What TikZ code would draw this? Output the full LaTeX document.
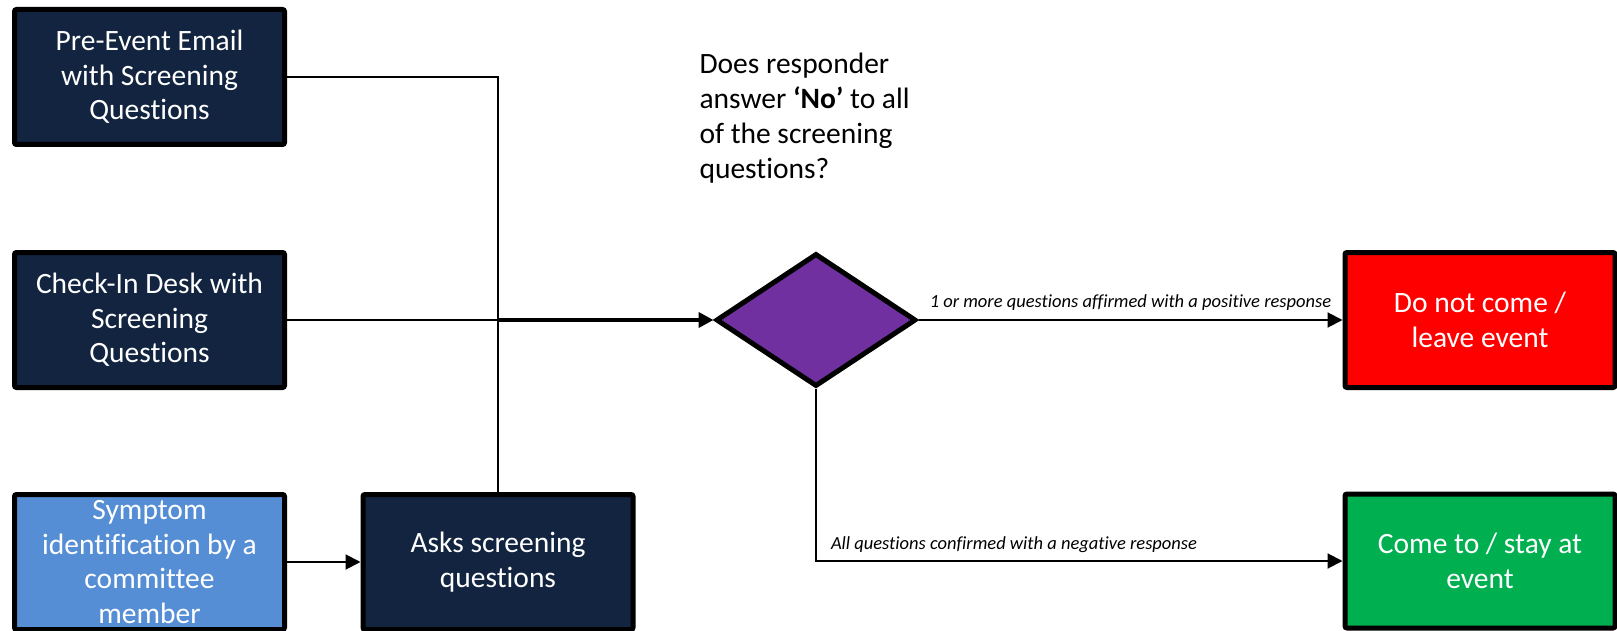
\documentclass[tikz,border=0pt]{standalone}
\usepackage{fontspec}
\setmainfont{Carlito}[Ligatures=NoCommon]
\usetikzlibrary{arrows.meta,positioning,shapes.geometric}

\definecolor{boxnavy}{RGB}{18,36,63}
\definecolor{boxsky}{RGB}{85,142,213}
\definecolor{decpurple}{RGB}{112,48,160}
\definecolor{stopred}{RGB}{255,0,0}
\definecolor{gogreen}{RGB}{0,176,80}

\tikzset{
  box/.style={draw=black, line width=5pt, rounded corners=2pt, minimum width=270pt,
    minimum height=135pt, inner sep=4pt, align=center, text=white,
    font=\fontsize{29.5}{34.5}\selectfont},
  link/.style={line width=2pt},
  tip/.style={-{Triangle[length=15pt,width=15pt]}},
  note/.style={font=\fontsize{18.5}{22}\selectfont\itshape, inner sep=2pt},
}

\begin{document}
\begin{tikzpicture}[x=1pt,y=-1pt]
\useasboundingbox (0,0) rectangle (1617,631);

\node[box, fill=boxnavy] (email)   at (149.5,77)  {Pre-Event Email\\with Screening\\Questions};
\node[box, fill=boxnavy] (checkin) at (149.5,320) {Check-In Desk with\\Screening\\Questions};
\node[box, fill=boxsky]  (symptom) at (149.5,562) {Symptom\\identification by a\\committee\\member};
\node[box, fill=boxnavy] (asks)    at (498,562)   {Asks screening\\questions};

\node[diamond, draw=black, line width=5pt, fill=decpurple, inner sep=0pt,
      minimum width=200pt, minimum height=133pt] (dec) at (816,320) {};
\node[anchor=west, align=left, font=\fontsize{29.5}{35}\selectfont] (query) at (696,118)
  {Does responder\\answer \textbf{‘No’} to all\\of the screening\\questions?};

\node[box, fill=stopred] (stop) at (1480,320) {Do not come /\\leave event};
\node[box, fill=gogreen, minimum height=134pt] (go) at (1480,561) {Come to / stay at\\event};

\coordinate (junc) at (498,320);
\draw[link] (email.east) -| (junc);
\draw[link] (checkin.east) -- (junc);
\draw[link] (asks.north) -- (junc);
\draw[link, tip, line width=4.5pt] (junc) -- (dec.west);
\draw[link, tip] (symptom.east) -- (asks.west);

\draw[link, tip] (dec.east) -- node[note, above=7pt] {1 or more questions affirmed with a positive response} (stop.west);
\draw[link, tip] (dec.south) |- node[note, pos=0.5, above right, xshift=12pt, yshift=5pt] {All questions confirmed with a negative response} (go.west);
\end{tikzpicture}
\end{document}
